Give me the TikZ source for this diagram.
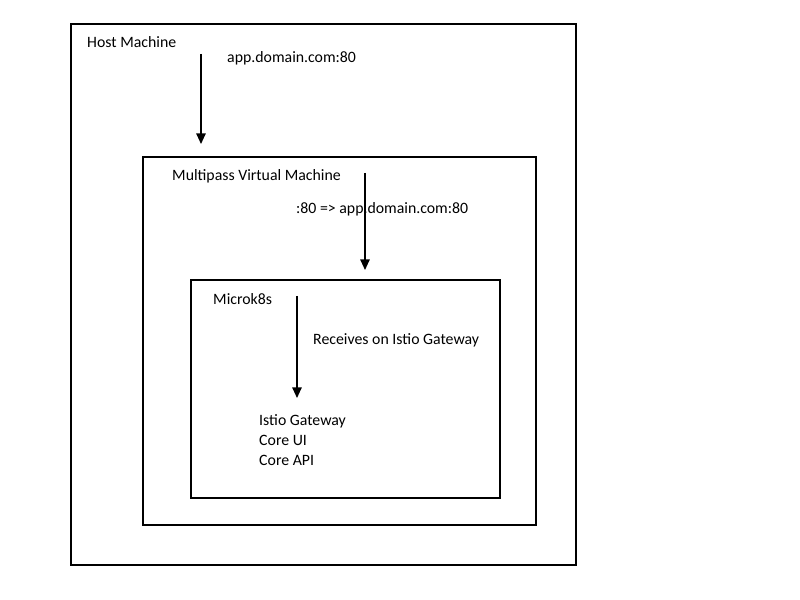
\documentclass[tikz,border=0pt]{standalone}
\usepackage{fontspec}
\setmainfont{Carlito}
\usetikzlibrary{arrows.meta}

\tikzset{
	label/.style={anchor=base west, inner sep=0pt, font=\fontsize{13.5}{17}\selectfont},
	frame/.style={line width=1.7pt},
	flow/.style={line width=1.2pt, -{Triangle[length=9pt, width=8pt]}}
}

\begin{document}
\begin{tikzpicture}[x=0.03cm, y=-0.03cm]
	\useasboundingbox (0,0) rectangle (800,600);

	% Host machine
	\draw[frame] (71,24) rectangle (576,565);
	\node[label] (host) at (87,47.5) {Host Machine};
	\node[label] (hostport) at (227,63) {app.domain.com:80};

	% Multipass VM
	\draw[frame] (143,157) rectangle (536,525);
	\node[label] (vm) at (172,180.5) {Multipass Virtual Machine};
	\node[label] (vmport) at (296,213.5) {:80 => app.domain.com:80};

	% Microk8s
	\draw[frame] (191,280) rectangle (500,498);
	\node[label] (k8s) at (213,304.5) {Microk8s};
	\node[label] (receive) at (313,344.5) {Receives on Istio Gateway};
	\node[label, align=left] (services) at (259,465.5) {Istio Gateway\\Core UI\\Core API};

	% Flow
	\coordinate (a1) at (201,54);
	\coordinate (b1) at (201,144);
	\coordinate (a2) at (365,173);
	\coordinate (b2) at (365,270);
	\coordinate (a3) at (297,296);
	\coordinate (b3) at (297,398);
	\draw[flow] (a1) -- (b1);
	\draw[flow] (a2) -- (b2);
	\draw[flow] (a3) -- (b3);
\end{tikzpicture}
\end{document}
